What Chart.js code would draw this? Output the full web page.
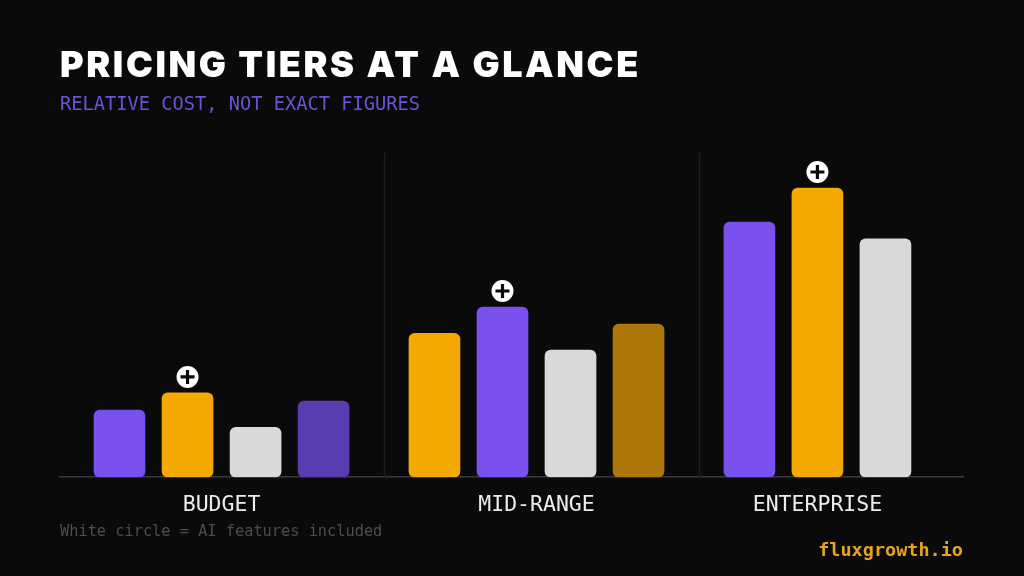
<!DOCTYPE html>
<html>
<head>
<meta charset="utf-8">
<script src="https://cdn.jsdelivr.net/npm/chart.js@4.4.1/dist/chart.umd.min.js"></script>
<style>
  html, body { margin: 0; padding: 0; background: #0a0a0a; }
  #wrap { position: relative; width: 1024px; height: 576px; overflow: hidden; background: #0a0a0a; }
  #chartBox { position: absolute; left: 0; top: 0; width: 1024px; height: 576px; }
  .txt { position: absolute; white-space: nowrap; line-height: 1; }
  #title { left: 60px; top: 46px; font-family: Inter, sans-serif; font-weight: 900; font-size: 36px; color: #ffffff; letter-spacing: 2.6px; }
  #subtitle { left: 60px; top: 95px; font-family: "DejaVu Sans Mono", monospace; font-size: 18.7px; color: #6b52d6; }
  #note { left: 60px; top: 524px; font-family: "DejaVu Sans Mono", monospace; font-size: 15.3px; color: #4d4d4d; }
  #brand { right: 61px; top: 541px; font-family: "DejaVu Sans Mono", monospace; font-weight: bold; font-size: 18.5px; color: #e8a31c; }
</style>
</head>
<body>
<div id="wrap">
  <div id="chartBox"><canvas id="tiersChart"></canvas></div>
  <div class="txt" id="title">PRICING TIERS AT A GLANCE</div>
  <div class="txt" id="subtitle">RELATIVE COST, NOT EXACT FIGURES</div>
  <div class="txt" id="note">White circle = AI features included</div>
  <div class="txt" id="brand">fluxgrowth.io</div>
</div>
<script>
// data (relative cost, 0-100)
const tiers = ["BUDGET", "MID-RANGE", "ENTERPRISE"];
const budgetCosts = [20.7, 26.0, 15.4, 23.5];
const midRangeCosts = [44.4, 52.5, 39.2, 47.2];
const enterpriseCosts = [78.7, 89.2, 73.5];
// which bar has the white "+" circle
const budgetAI = [false, true, false, false];
const midRangeAI = [false, true, false, false];
const enterpriseAI = [false, true, false];

// colours per bar
const PURPLE = "#7a50ee", ORANGE = "#f4a800", GREY = "#d9d9d9";
const DEEP_PURPLE = "#5a3cb2", DARK_GOLD = "#ad770a";
const budgetColors = [PURPLE, ORANGE, GREY, DEEP_PURPLE];
const midRangeColors = [ORANGE, PURPLE, GREY, DARK_GOLD];
const enterpriseColors = [PURPLE, ORANGE, GREY];

// x in "bar slots", with a wider gap between tiers
const groupGap = 1.63;
const groups = [
  { values: budgetCosts, ai: budgetAI, colors: budgetColors },
  { values: midRangeCosts, ai: midRangeAI, colors: midRangeColors },
  { values: enterpriseCosts, ai: enterpriseAI, colors: enterpriseColors }
];

const points = [], colors = [], aiFlags = [], groupCenters = [], separators = [];
let slot = 0;
groups.forEach((g, gi) => {
  const first = slot;
  g.values.forEach((v, i) => {
    points.push({ x: slot, y: v });
    colors.push(g.colors[i]);
    aiFlags.push(g.ai[i]);
    slot += 1;
  });
  const last = slot - 1;
  groupCenters.push((first + last) / 2);
  if (gi < groups.length - 1) separators.push(last + groupGap / 2 + 0.07);
  slot = last + groupGap;
});

// vertical divider lines between tiers
const dividerPlugin = {
  id: "dividers",
  beforeDatasetsDraw(chart) {
    const ctx = chart.ctx;
    const xs = chart.scales.x;
    const area = chart.chartArea;
    ctx.save();
    ctx.strokeStyle = "#1e1e1e";
    ctx.lineWidth = 1.5;
    separators.forEach(s => {
      const px = Math.round(xs.getPixelForValue(s)) + 0.5;
      ctx.beginPath();
      ctx.moveTo(px, area.top);
      ctx.lineTo(px, area.bottom);
      ctx.stroke();
    });
    ctx.restore();
  }
};

// white circle with a plus above the AI bars
const aiBadgePlugin = {
  id: "aiBadge",
  afterDatasetsDraw(chart) {
    const ctx = chart.ctx;
    const meta = chart.getDatasetMeta(0);
    ctx.save();
    meta.data.forEach((bar, i) => {
      if (!aiFlags[i]) return;
      const cx = bar.x, cy = bar.y - 16;
      ctx.fillStyle = "#ffffff";
      ctx.beginPath();
      ctx.arc(cx, cy, 11, 0, Math.PI * 2);
      ctx.fill();
      ctx.strokeStyle = "#0a0a0a";
      ctx.lineWidth = 3.2;
      ctx.beginPath();
      ctx.moveTo(cx - 7, cy);
      ctx.lineTo(cx + 7, cy);
      ctx.moveTo(cx, cy - 7);
      ctx.lineTo(cx, cy + 7);
      ctx.stroke();
    });
    ctx.restore();
  }
};

const ctx = document.getElementById("tiersChart").getContext("2d");
new Chart(ctx, {
  type: "bar",
  data: {
    datasets: [{
      data: points,
      backgroundColor: colors,
      borderRadius: 6,
      borderSkipped: false,
      barThickness: 51
    }]
  },
  options: {
    responsive: true,
    maintainAspectRatio: false,
    animation: false,
    layout: { padding: { left: 60, right: 61, top: 153, bottom: 51 } },
    plugins: { legend: { display: false }, tooltip: { enabled: false } },
    scales: {
      x: {
        type: "linear",
        offset: false,
        min: -0.875,
        max: 12.4,
        grid: { display: false },
        border: { display: true, color: "#3a3a3a", width: 1.5 },
        afterBuildTicks: (scale) => {
          scale.ticks = groupCenters.map(v => ({ value: v }));
        },
        ticks: {
          autoSkip: false,
          maxRotation: 0,
          padding: 7,
          color: "#ececec",
          font: { family: "'DejaVu Sans Mono', monospace", size: 21.5, weight: "500" },
          callback: (value) => tiers[groupCenters.indexOf(value)]
        }
      },
      y: {
        display: false,
        min: 0,
        max: 100
      }
    }
  },
  plugins: [dividerPlugin, aiBadgePlugin]
});
</script>
</body>
</html>
